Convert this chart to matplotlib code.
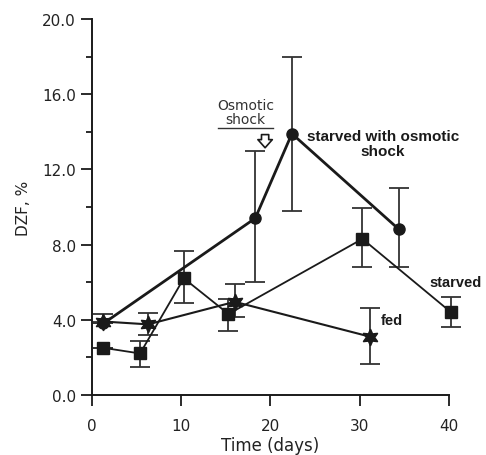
import numpy as np
import matplotlib.pyplot as plt
from matplotlib.ticker import MultipleLocator, FormatStrFormatter

# starved with osmotic shock (circles)
shock_x = [1.3, 18.3, 22.4, 34.4]
shock_y = [3.8, 9.4, 13.9, 8.8]
shock_lo = [3.8, 6.0, 9.8, 6.8]
shock_hi = [3.8, 13.0, 18.0, 11.0]

# starved (squares)
starved_x = [1.3, 5.4, 10.3, 15.3, 30.3, 40.2]
starved_y = [2.5, 2.2, 6.2, 4.3, 8.3, 4.4]
starved_lo = [2.5, 1.5, 4.9, 3.4, 6.8, 3.6]
starved_hi = [2.5, 2.85, 7.65, 5.1, 9.95, 5.2]

# fed (stars)
fed_x = [1.3, 6.3, 16.0, 31.1]
fed_y = [3.9, 3.75, 4.95, 3.1]
fed_lo = [3.9, 3.2, 4.15, 1.65]
fed_hi = [4.3, 4.35, 5.9, 4.6]

plt.rcParams['font.family'] = ['DejaVu Sans']

fig = plt.figure(figsize=(4.86, 4.56), dpi=100)
ax = fig.add_axes([0.189, 0.132, 0.735, 0.824])

col = '#1a1a1a'


def series(x, y, lo, hi, marker, ms, lw):
    y = np.array(y)
    err = [y - np.array(lo), np.array(hi) - y]
    ax.errorbar(x, y, yerr=err, fmt='none', ecolor='#333333', elinewidth=1.3,
                capsize=7, capthick=1.3, clip_on=False, zorder=2)
    ax.plot(x, y, color=col, lw=lw, marker=marker, ms=ms, mfc=col, mec=col,
            clip_on=False, zorder=3)


series(starved_x, starved_y, starved_lo, starved_hi, 's', 8, 1.3)
series(fed_x, fed_y, fed_lo, fed_hi, (6, 1, 0), 12, 1.5)
series(shock_x, shock_y, shock_lo, shock_hi, 'o', 8, 2.0)

ax.set_xlim(0, 40)
ax.set_ylim(0, 20)
ax.spines['top'].set_visible(False)
ax.spines['right'].set_visible(False)
for s in ['left', 'bottom']:
    ax.spines[s].set_linewidth(1.4)
    ax.spines[s].set_color(col)

ax.xaxis.set_major_locator(MultipleLocator(10))
ax.yaxis.set_major_locator(MultipleLocator(4))
ax.yaxis.set_minor_locator(MultipleLocator(2))
ax.yaxis.set_major_formatter(FormatStrFormatter('%.1f'))
ax.tick_params(axis='both', which='major', length=8, width=1.3, labelsize=11,
               color=col, labelcolor='#222222')
ax.tick_params(axis='x', which='major', pad=9)
ax.tick_params(axis='y', which='minor', length=4, width=1.3, color=col)

ax.set_xlabel('Time (days)', fontsize=12, labelpad=2, color='#222222')
ax.set_ylabel('DZF, %', fontsize=11, labelpad=8, color='#222222')

# annotations
ax.text(17.2, 15.05, 'Osmotic\nshock', ha='center', va='center', fontsize=10,
        color='#333333', linespacing=1.05)
ax.plot([14.1, 20.3], [14.2, 14.2], color='#333333', lw=1.0)
ax.annotate('', xy=(19.4, 13.15), xytext=(19.4, 13.85),
            arrowprops=dict(arrowstyle='simple,head_width=0.8,head_length=0.45,tail_width=0.4',
                            fc='white', ec=col, lw=1.2, mutation_scale=13,
                            shrinkA=0, shrinkB=0))

ax.text(32.6, 13.4, 'starved with osmotic\nshock', ha='center', va='center',
        fontsize=11, fontweight='bold', family='Liberation Sans',
        linespacing=1.1, color=col)
ax.text(40.7, 6.0, 'starved', ha='center', va='center', fontsize=10.5,
        fontweight='bold', family='Liberation Sans', color=col)
ax.text(32.3, 4.0, 'fed', ha='left', va='center', fontsize=10.5,
        fontweight='bold', family='Liberation Sans', color=col)

fig.savefig('out.png', dpi=100, facecolor='white')
